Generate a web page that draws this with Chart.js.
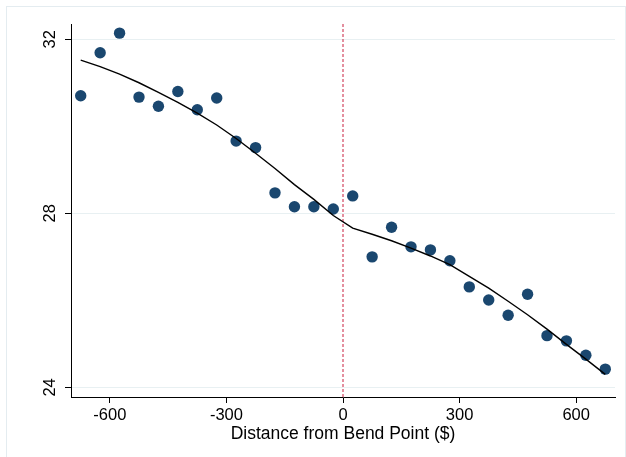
<!DOCTYPE html>
<html lang="en">

<head>
    <meta charset="UTF-8">
    <title>Distance from Bend Point</title>
    <script src="https://cdn.jsdelivr.net/npm/chart.js@4.4.0/dist/chart.umd.min.js"></script>
    <style>
        body { margin: 0; background: #fff; }
        #wrap { position: relative; width: 626px; height: 457px; }
        #frame { position: absolute; left: 6px; top: 6px; width: 620px; height: 452px; border: 1px solid #e4ecf0; box-sizing: border-box; }
        #chart { position: absolute; left: 0; top: 0; }
    </style>
</head>

<body>
    <div id="wrap">
        <div id="frame"></div>
        <canvas id="chart" width="626" height="457"></canvas>
    </div>

    <script>
        // bins of distance from the bend point
        const bins = [-675, -625, -575, -525, -475, -425, -375, -325, -275, -225, -175, -125, -75, -25,
            25, 75, 125, 175, 225, 275, 325, 375, 425, 475, 525, 575, 625, 675]

        // bin means
        const means = [30.70, 31.69, 32.14, 30.67, 30.46, 30.80, 30.38, 30.65, 29.66, 29.51, 28.47, 28.15, 28.15, 28.10,
            28.40, 27.00, 27.68, 27.23, 27.16, 26.91, 26.31, 26.01, 25.66, 26.14, 25.19, 25.07, 24.74, 24.42]

        // fitted values
        const fitted = [31.52, 31.37, 31.20, 31.00, 30.78, 30.55, 30.30, 30.03, 29.72, 29.38, 29.03, 28.66, 28.32, 27.95,
            27.66, 27.52, 27.37, 27.20, 27.02, 26.82, 26.55, 26.28, 25.98, 25.67, 25.34, 24.99, 24.65, 24.30]

        const xTicks = [-600, -300, 0, 300, 600]
        const yTicks = [24, 28, 32]
        const xRange = [-700, 700]
        const yRange = [23.78, 32.35]

        const font = "'Liberation Sans', Arial, sans-serif"

        const ctx = document.getElementById('chart').getContext('2d')
        const myChart = new Chart(ctx, {
            data: {
                datasets: [{
                    type: 'line',
                    data: [{ x: 0, y: yRange[1] }, { x: 0, y: yRange[0] }],
                    borderColor: '#c81e3f',
                    borderWidth: 1,
                    borderDash: [3, 2],
                    pointRadius: 0,
                    order: 3
                }, {
                    type: 'scatter',
                    data: bins.map((b, i) => ({ x: b, y: means[i] })),
                    backgroundColor: '#1a476f',
                    borderWidth: 0,
                    pointRadius: 5.7,
                    order: 2
                }, {
                    type: 'line',
                    data: bins.map((b, i) => ({ x: b, y: fitted[i] })),
                    borderColor: '#000',
                    borderWidth: 1.4,
                    pointRadius: 0,
                    tension: 0,
                    order: 1
                }]
            },
            options: {
                responsive: false,
                animation: false,
                layout: { padding: { top: 24, right: 11, left: 0, bottom: 0 } },
                plugins: {
                    legend: { display: false },
                    tooltip: { enabled: false }
                },
                scales: {
                    x: {
                        type: 'linear',
                        min: xRange[0],
                        max: xRange[1],
                        afterBuildTicks: s => { s.ticks = xTicks.map(v => ({ value: v })) },
                        afterFit: s => { s.height = 60 },
                        grid: { drawOnChartArea: false, tickColor: '#000', tickLength: 6 },
                        border: { color: '#000', width: 1 },
                        ticks: { color: '#000', font: { family: font, size: 16.5 }, padding: 3, maxRotation: 0 },
                        title: {
                            display: true,
                            text: 'Distance from Bend Point ($)',
                            color: '#000',
                            font: { family: font, size: 17.5 },
                            padding: { top: 0, bottom: 12 }
                        }
                    },
                    y: {
                        type: 'linear',
                        min: yRange[0],
                        max: yRange[1],
                        afterBuildTicks: s => { s.ticks = yTicks.map(v => ({ value: v })) },
                        afterFit: s => { s.width = 71 },
                        grid: { color: '#e8f0f2', lineWidth: 1, tickColor: '#000', tickLength: 6 },
                        border: { color: '#000', width: 1 },
                        ticks: {
                            color: '#000',
                            font: { family: font, size: 16.5 },
                            padding: 5,
                            minRotation: 90,
                            maxRotation: 90,
                            crossAlign: 'center'
                        }
                    }
                }
            }
        })
    </script>

</body>

</html>
